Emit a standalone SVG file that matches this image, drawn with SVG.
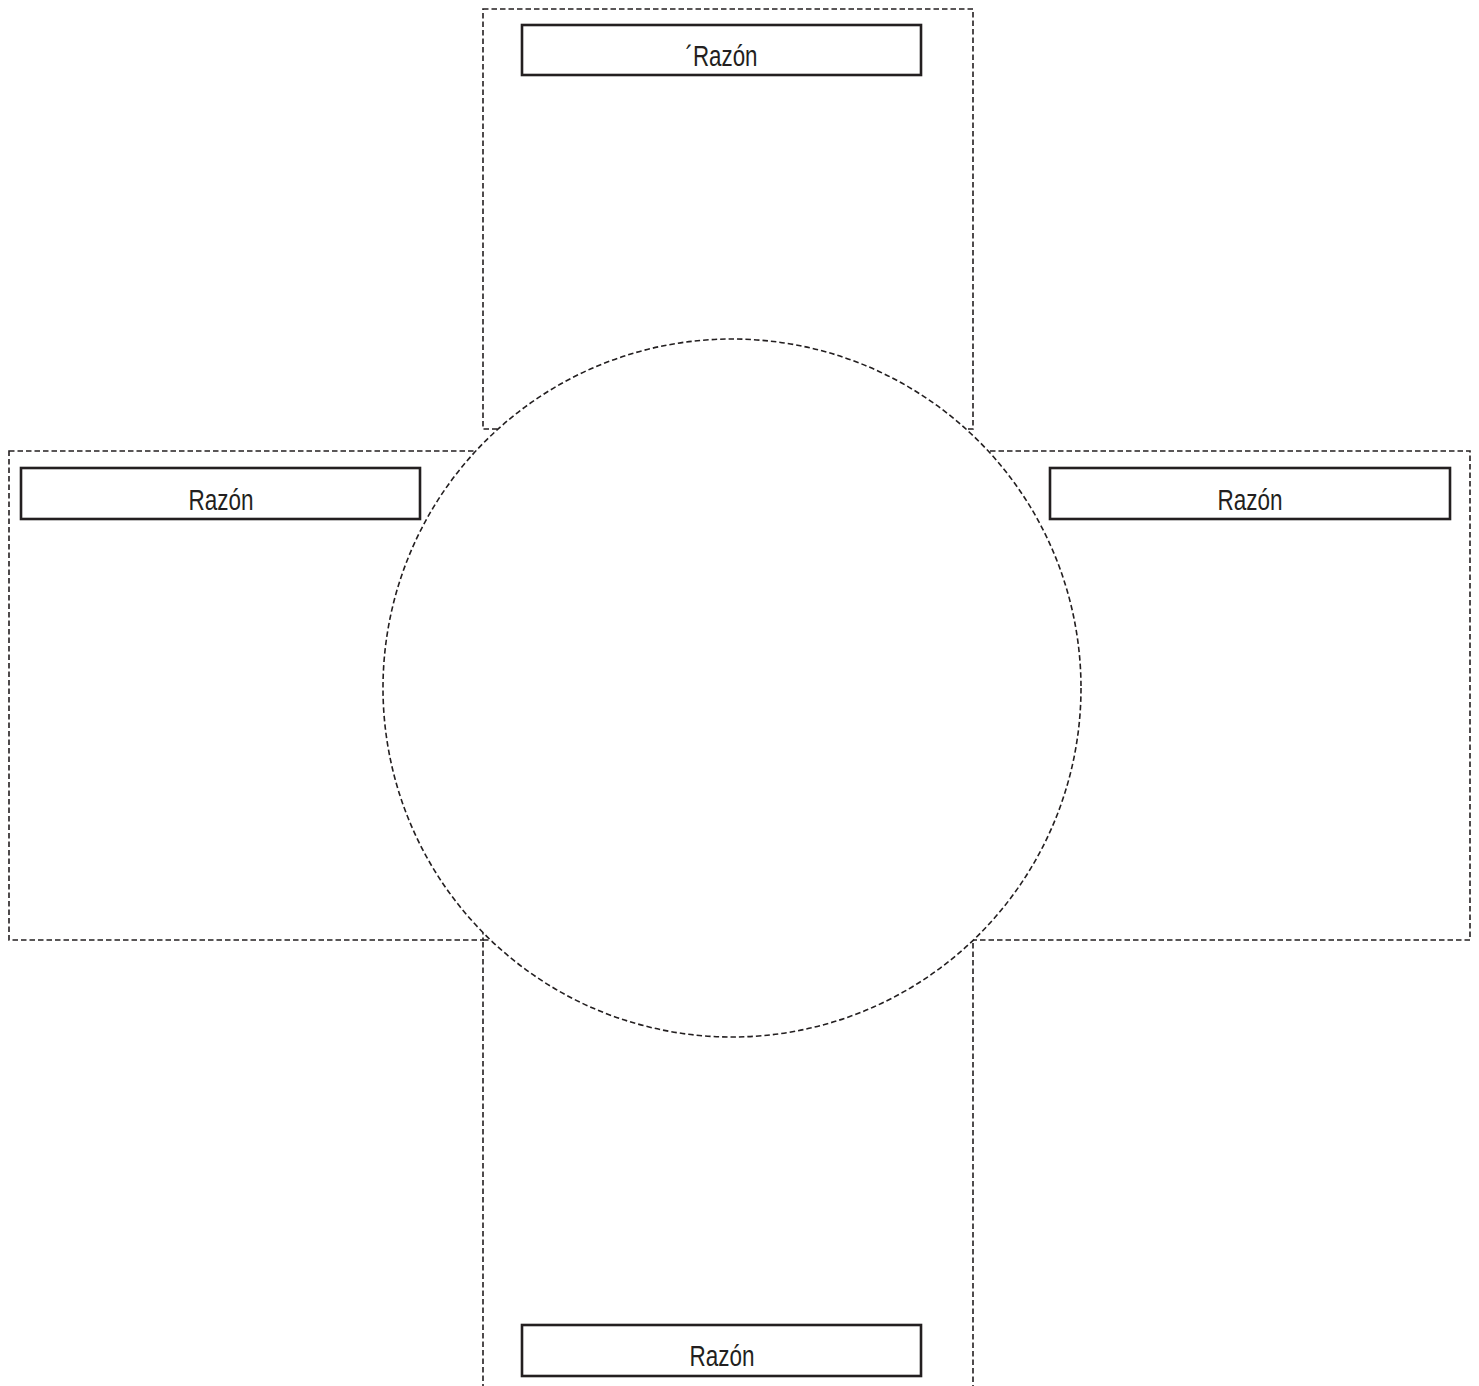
<svg xmlns="http://www.w3.org/2000/svg" width="1479" height="1386" viewBox="0 0 1479 1386">
<style>
.arm{fill:none;stroke:#231f20;stroke-width:1.6;stroke-dasharray:5.5 3}
.circ{fill:none;stroke:#231f20;stroke-width:1.6;stroke-dasharray:5.5 3}
.lbl{fill:#ffffff;stroke:#231f20;stroke-width:2.6}
.txt{font-family:"Liberation Sans",Arial,sans-serif;font-size:29px;fill:#231f20;text-anchor:middle}
</style>
<defs>
<clipPath id="outside">
<path clip-rule="evenodd" d="M-10,-10H1500V1400H-10Z M383,688a349,349 0 1,0 698,0a349,349 0 1,0 -698,0Z"/>
</clipPath>
</defs>
<rect width="1479" height="1386" fill="#ffffff"/>
<g id="arms" clip-path="url(#outside)">
<rect id="arm-top" class="arm" x="483" y="9" width="490" height="420"/>
<rect id="arm-left" class="arm" x="9" y="451" width="474" height="489"/>
<rect id="arm-right" class="arm" x="973" y="451" width="497" height="489"/>
<rect id="arm-bottom" class="arm" x="483" y="940" width="490" height="470"/>
</g>
<g id="center-circle">
<circle class="circ" cx="732" cy="688" r="349"/>
</g>
<g id="label-top">
<rect class="lbl" x="522" y="25" width="399" height="50"/>
<text class="txt" x="721.5" y="66" textLength="72" lengthAdjust="spacingAndGlyphs">´Razón</text>
</g>
<g id="label-left">
<rect class="lbl" x="21" y="468" width="399" height="51"/>
<text class="txt" x="221" y="510" textLength="65" lengthAdjust="spacingAndGlyphs">Razón</text>
</g>
<g id="label-right">
<rect class="lbl" x="1050" y="468" width="400" height="51"/>
<text class="txt" x="1250" y="510" textLength="65" lengthAdjust="spacingAndGlyphs">Razón</text>
</g>
<g id="label-bottom">
<rect class="lbl" x="522" y="1325" width="399" height="51"/>
<text class="txt" x="722" y="1366" textLength="65" lengthAdjust="spacingAndGlyphs">Razón</text>
</g>
</svg>
